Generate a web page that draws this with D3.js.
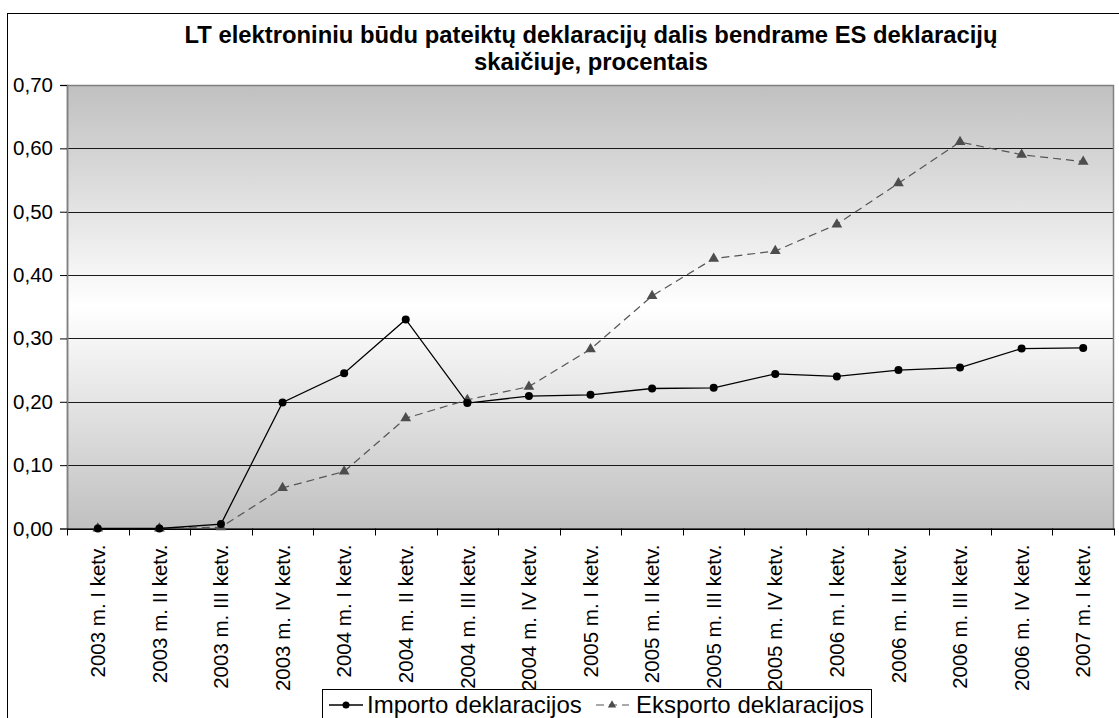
<!DOCTYPE html>
<html><head><meta charset="utf-8">
<script src="https://cdn.jsdelivr.net/npm/d3@7"></script>
<style>
body{margin:0;background:#fff;}
text{font-family:"Liberation Sans",Arial,sans-serif;}
</style></head>
<body>
<svg id="c" width="1119" height="718"></svg>
<script>
const categories = ["2003 m. I ketv.","2003 m. II ketv.","2003 m. III ketv.","2003 m. IV ketv.",
"2004 m. I ketv.","2004 m. II ketv.","2004 m. III ketv.","2004 m. IV ketv.",
"2005 m. I ketv.","2005 m. II ketv.","2005 m. III ketv.","2005 m. IV ketv.",
"2006 m. I ketv.","2006 m. II ketv.","2006 m. III ketv.","2006 m. IV ketv.","2007 m. I ketv."];
const importValues = [0.000,0.000,0.007,0.199,0.245,0.330,0.198,0.209,0.211,0.221,0.222,0.244,0.240,0.250,0.254,0.284,0.285];
const exportValues = [0.000,0.000,0.002,0.064,0.090,0.174,0.203,0.224,0.283,0.367,0.426,0.438,0.480,0.545,0.610,0.590,0.579];
const yTicks = [0,0.1,0.2,0.3,0.4,0.5,0.6,0.7];
const seriesNames = ["Importo deklaracijos","Eksporto deklaracijos"];
const titleLines = ["LT elektroniniu būdu pateiktų deklaracijų dalis bendrame ES deklaracijų","skaičiuje, procentais"];

const svg = d3.select("#c");
const L=67, R=1114, T=85, B=528.5;
const fmt = v => v.toFixed(2).replace(".", ",");

// outer chart border
svg.append("rect").attr("x",7.5).attr("y",13.5).attr("width",1130).attr("height",720)
  .attr("fill","#fff").attr("stroke","#000").attr("stroke-width",1);

// title
svg.selectAll("text.title").data(titleLines).join("text").attr("class","title")
  .attr("x",591).attr("y",(d,i)=>43+i*27).attr("text-anchor","middle")
  .attr("font-size",23.8).attr("font-weight","bold").text(d=>d);

const x = d3.scaleBand().domain(categories).range([L,R]);
const y = d3.scaleLinear().domain([0,0.7]).range([B,T]);

const defs = svg.append("defs");
const g = defs.append("linearGradient").attr("id","bg").attr("x1",0).attr("y1",0).attr("x2",0).attr("y2",1);
g.append("stop").attr("offset","0%").attr("stop-color","#c0c0c0");
g.append("stop").attr("offset","50%").attr("stop-color","#ffffff");
g.append("stop").attr("offset","100%").attr("stop-color","#c0c0c0");

svg.append("rect").attr("x",L).attr("y",T).attr("width",R-L).attr("height",B-T).attr("fill","url(#bg)");

// gridlines
svg.selectAll("line.grid").data(yTicks.slice(1,-1)).join("line").attr("class","grid")
  .attr("x1",L).attr("x2",R).attr("y1",d=>Math.round(y(d))+0.5).attr("y2",d=>Math.round(y(d))+0.5)
  .attr("stroke","#1a1a1a").attr("stroke-width",1);

// plot border
svg.append("rect").attr("x",L+0.5).attr("y",Math.round(T)+0.5).attr("width",R-L-1).attr("height",B-T)
  .attr("fill","none").attr("stroke","#808080").attr("stroke-width",1.5);

// y axis
const yAxis = d3.axisLeft(y).tickValues(yTicks).tickFormat(fmt).tickSize(7).tickPadding(7);
const ya = svg.append("g").attr("transform",`translate(${L},0)`).call(yAxis);
ya.select(".domain").attr("stroke","#808080").attr("stroke-width",1.5);
ya.selectAll(".tick line").attr("stroke","#000");
ya.selectAll(".tick text").attr("font-size",20.5).attr("font-family","Liberation Sans, Arial, sans-serif").attr("fill","#000");

// x axis
const xAxis = d3.axisBottom(x).tickSize(0).tickPadding(0);
const xa = svg.append("g").attr("transform",`translate(0,${B})`).call(xAxis);
xa.select(".domain").attr("stroke","#000").attr("stroke-width",1);
xa.selectAll(".tick text").attr("font-size",20.5).attr("font-family","Liberation Sans, Arial, sans-serif").attr("fill","#000")
  .attr("transform","rotate(-90)").attr("text-anchor","end").attr("x",-16).attr("y",0).attr("dy","0.35em");
// boundary ticks
const bounds = categories.map(c=>x(c)).concat([R]);
svg.selectAll("line.xt").data(bounds).join("line").attr("class","xt")
  .attr("x1",d=>Math.round(d)+0.5).attr("x2",d=>Math.round(d)+0.5).attr("y1",B).attr("y2",B+7)
  .attr("stroke","#000");
svg.append("line").attr("x1",L).attr("x2",R).attr("y1",Math.round(B)+0.5).attr("y2",Math.round(B)+0.5).attr("stroke","#000");

const cx = c => x(c)+x.bandwidth()/2;
const line = vals => d3.line().x((d,i)=>cx(categories[i])).y(d=>y(d))(vals);

// export series
svg.append("path").attr("d",line(exportValues)).attr("fill","none").attr("stroke","#555")
  .attr("stroke-width",1.2).attr("stroke-dasharray","8,5");
const tri = d3.symbol().type(d3.symbolTriangle).size(50);
svg.selectAll("path.tri").data(exportValues).join("path").attr("class","tri")
  .attr("d",tri).attr("transform",(d,i)=>`translate(${cx(categories[i])},${y(d)})`).attr("fill","#4d4d4d");

// import series
svg.append("path").attr("d",line(importValues)).attr("fill","none").attr("stroke","#000").attr("stroke-width",1.3);
svg.selectAll("circle.imp").data(importValues).join("circle").attr("class","imp")
  .attr("cx",(d,i)=>cx(categories[i])).attr("cy",d=>y(d)).attr("r",4).attr("fill","#000");

// legend
const lg = svg.append("g");
lg.append("rect").attr("x",322.5).attr("y",689.5).attr("width",549).attr("height",40).attr("fill","#fff").attr("stroke","#000");
lg.append("line").attr("x1",329).attr("x2",363).attr("y1",705).attr("y2",705).attr("stroke","#000").attr("stroke-width",1.3);
lg.append("circle").attr("cx",346).attr("cy",705).attr("r",3.5).attr("fill","#000");
lg.append("text").attr("x",367).attr("y",713).attr("font-size",24).text(seriesNames[0]);
lg.append("line").attr("x1",596).attr("x2",629).attr("y1",705).attr("y2",705).attr("stroke","#555").attr("stroke-width",1.2).attr("stroke-dasharray","8,5");
lg.append("path").attr("d",d3.symbol().type(d3.symbolTriangle).size(30)).attr("transform","translate(612,705)").attr("fill","#4d4d4d");
lg.append("text").attr("x",636).attr("y",713).attr("font-size",24).text(seriesNames[1]);
</script>
</body></html>
